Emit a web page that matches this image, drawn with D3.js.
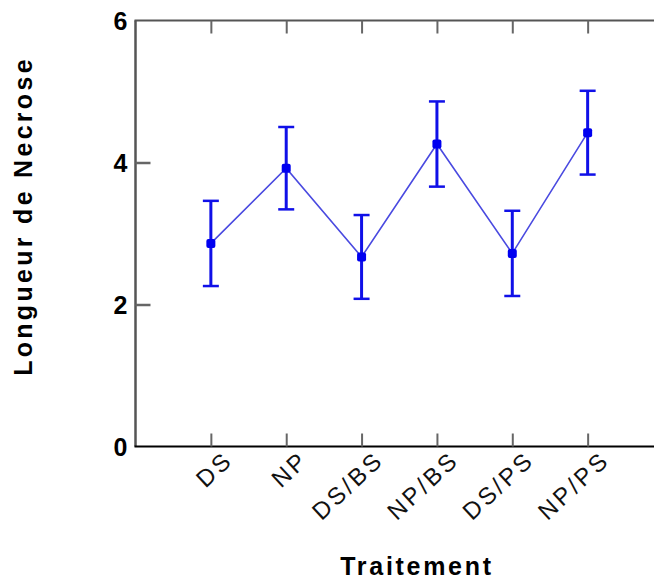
<!DOCTYPE html>
<html>
<head>
<meta charset="utf-8">
<script src="https://cdn.jsdelivr.net/npm/d3@7"></script>
<style>
  html, body { margin: 0; padding: 0; background: #fff; }
  svg { display: block; }
</style>
</head>
<body>
<svg id="chart" width="654" height="579"></svg>
<script>
// Treatment groups and mean necrosis length with error bar half-widths
const categories = ["DS", "NP", "DS/BS", "NP/BS", "DS/PS", "NP/PS"];
const means = [2.86, 3.92, 2.67, 4.26, 2.72, 4.42];
const errors = [0.60, 0.58, 0.59, 0.60, 0.60, 0.59];
const yTicks = [0, 2, 4, 6];

const svg = d3.select("#chart");
const plotLeft = 135.5, plotRight = 663, plotTop = 20.5, plotBottom = 446.5;

const x = d3.scalePoint().domain(categories).range([plotLeft, plotRight]).padding(1);
const y = d3.scaleLinear().domain([0, 6]).range([plotBottom, plotTop]);

const data = categories.map((c, i) => ({ c, m: means[i], e: errors[i] }));

// Frame: left axis, top edge and baseline
const frame = svg.append("g");
frame.append("line").attr("x1", plotLeft).attr("x2", plotLeft).attr("y1", plotTop).attr("y2", plotBottom)
  .attr("stroke", "#555").attr("stroke-width", 2.5);
frame.append("line").attr("x1", plotLeft - 1).attr("x2", 654).attr("y1", plotTop).attr("y2", plotTop)
  .attr("stroke", "#555").attr("stroke-width", 2);
frame.append("line").attr("x1", plotLeft - 1).attr("x2", 654).attr("y1", plotBottom).attr("y2", plotBottom)
  .attr("stroke", "#000").attr("stroke-width", 2);

// Y axis: inward ticks and labels
const yAxis = d3.axisRight(y).tickValues(yTicks).tickSize(15).tickFormat("");
const gy = svg.append("g").attr("transform", `translate(${plotLeft},0)`).call(yAxis);
gy.select(".domain").remove();
gy.selectAll(".tick line").attr("stroke", "#666").attr("stroke-width", 2.5);
gy.selectAll(".tick").filter(d => d === 0 || d === 6).remove();
svg.append("g").selectAll("text").data(yTicks).join("text")
  .attr("x", plotLeft - 8).attr("y", d => y(d)).attr("dy", "0.36em")
  .attr("text-anchor", "end")
  .attr("font-family", "Liberation Sans, Arial, sans-serif")
  .attr("font-weight", "bold").attr("font-size", 25)
  .text(d => d);

// X axis: inward ticks on bottom and top
const gxb = svg.append("g").attr("transform", `translate(0,${plotBottom})`)
  .call(d3.axisTop(x).tickSize(13).tickFormat(""));
gxb.select(".domain").remove();
gxb.selectAll(".tick line").attr("stroke", "#666").attr("stroke-width", 2);
const gxt = svg.append("g").attr("transform", `translate(0,${plotTop})`)
  .call(d3.axisBottom(x).tickSize(13).tickFormat(""));
gxt.select(".domain").remove();
gxt.selectAll(".tick line").attr("stroke", "#666").attr("stroke-width", 2);

// Rotated category labels
svg.append("g").selectAll("text").data(categories).join("text")
  .attr("transform", d => `translate(${x(d) + 12},${plotBottom + 3}) rotate(-43)`)
  .attr("text-anchor", "end")
  .attr("dy", "0.7em")
  .attr("font-family", "Liberation Sans, Arial, sans-serif")
  .attr("font-size", 24).attr("letter-spacing", 3)
  .attr("fill", "#111")
  .text(d => d);

// Connecting line between means
svg.append("path").datum(data)
  .attr("fill", "none").attr("stroke", "#4a4ae0").attr("stroke-width", 1.6)
  .attr("d", d3.line().x(d => x(d.c)).y(d => y(d.m)));

// Error bars
const eb = svg.append("g").selectAll("g").data(data).join("g");
eb.append("line")
  .attr("x1", d => x(d.c)).attr("x2", d => x(d.c))
  .attr("y1", d => y(d.m - d.e)).attr("y2", d => y(d.m + d.e))
  .attr("stroke", "#1010e8").attr("stroke-width", 3);
eb.append("line")
  .attr("x1", d => x(d.c) - 8).attr("x2", d => x(d.c) + 8)
  .attr("y1", d => y(d.m + d.e)).attr("y2", d => y(d.m + d.e))
  .attr("stroke", "#1010e8").attr("stroke-width", 2.5);
eb.append("line")
  .attr("x1", d => x(d.c) - 8).attr("x2", d => x(d.c) + 8)
  .attr("y1", d => y(d.m - d.e)).attr("y2", d => y(d.m - d.e))
  .attr("stroke", "#1010e8").attr("stroke-width", 2.5);

// Mean markers
svg.append("g").selectAll("rect").data(data).join("rect")
  .attr("x", d => x(d.c) - 4.5).attr("y", d => y(d.m) - 4.5)
  .attr("width", 9).attr("height", 9).attr("rx", 2)
  .attr("fill", "#0000f0");

// Axis titles
svg.append("text")
  .attr("x", 417).attr("y", 575)
  .attr("text-anchor", "middle")
  .attr("font-family", "Liberation Sans, Arial, sans-serif")
  .attr("font-weight", "bold").attr("font-size", 25).attr("letter-spacing", 2.7)
  .text("Traitement");
svg.append("text")
  .attr("transform", "translate(32,216) rotate(-90)")
  .attr("text-anchor", "middle")
  .attr("font-family", "Liberation Sans, Arial, sans-serif")
  .attr("font-weight", "bold").attr("font-size", 25).attr("letter-spacing", 3.3)
  .text("Longueur de Necrose");
</script>
</body>
</html>
